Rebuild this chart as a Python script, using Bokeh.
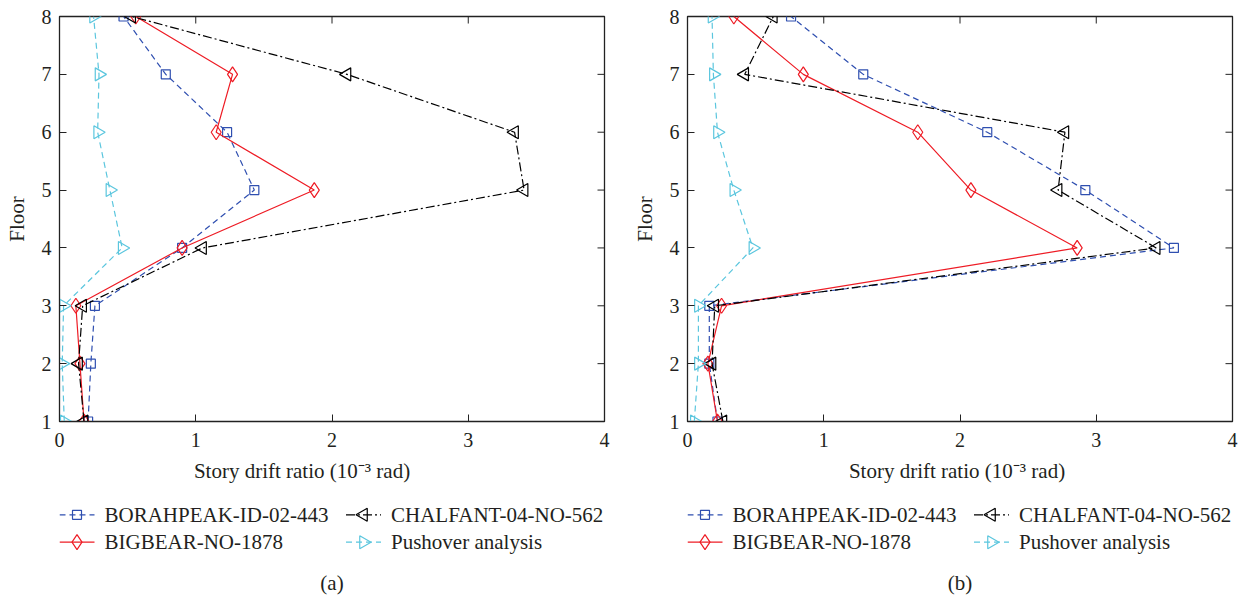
import math
from bokeh.plotting import figure
from bokeh.models import Range1d, FixedTicker, Label
from bokeh.core.properties import value
from bokeh.layouts import row, column
from bokeh.embed import file_html
from bokeh.resources import INLINE

# Floor numbers (storey 1 to 8)
floors = [1, 2, 3, 4, 5, 6, 7, 8]

# Story drift ratios (10^-3 rad), floor 1 -> floor 8
# Panel (a)
a_borah = [0.21, 0.23, 0.26, 0.90, 1.43, 1.23, 0.78, 0.47]
a_bigbear = [0.18, 0.15, 0.12, 0.90, 1.87, 1.15, 1.27, 0.56]
a_chalfant = [0.18, 0.14, 0.17, 1.05, 3.41, 3.34, 2.11, 0.53]
a_pushover = [0.035, 0.02, 0.03, 0.46, 0.37, 0.28, 0.29, 0.25]

# Panel (b)
b_borah = [0.22, 0.16, 0.16, 3.57, 2.92, 2.20, 1.29, 0.76]
b_bigbear = [0.22, 0.15, 0.25, 2.86, 2.08, 1.69, 0.85, 0.34]
b_chalfant = [0.26, 0.18, 0.20, 3.44, 2.72, 2.77, 0.42, 0.63]
b_pushover = [0.05, 0.08, 0.08, 0.48, 0.34, 0.22, 0.19, 0.18]

series_names = ["BORAHPEAK-ID-02-443", "BIGBEAR-NO-1878",
                "CHALFANT-04-NO-562", "Pushover analysis"]
x_ticks = [0, 1, 2, 3, 4]
y_ticks = floors
x_title = "Story drift ratio (10\u207b\u00b3 rad)"
y_title = "Floor"

FONT = "Liberation Serif"
TXT = "#231f20"
FS = "20px"
PANEL_W = 622
CHART_H = 458
KEY_H = 600 - CHART_H
FRAME_W, FRAME_H = 545, 405

STYLES = {
    "BORAHPEAK-ID-02-443": dict(color="#2f4fb0", dash="6 4", marker="square", size=9, angle=0.0),
    "BIGBEAR-NO-1878": dict(color="#ee1c25", dash="solid", marker="diamond", size=15, angle=0.0),
    "CHALFANT-04-NO-562": dict(color="#000000", dash="9 3 2 3", marker="triangle", size=13, angle=math.pi / 2),
    "Pushover analysis": dict(color="#5bc6de", dash="6 4", marker="triangle", size=13, angle=-math.pi / 2),
}

# key layout (pixels inside the strip under each chart, origin bottom-left of the box)
KEY_COLS = [0, 286.5]          # left end of each legend column
KEY_ROWS = [85.7, 58.3]        # centre line of each legend row
GLYPH_W, LABEL_GAP = 35, 10


def style_axis(ax):
    ax.major_tick_in = 7
    ax.major_tick_out = 0
    ax.minor_tick_line_color = None
    ax.axis_line_color = "#222222"
    ax.major_tick_line_color = "#222222"
    ax.major_label_text_font = FONT
    ax.major_label_text_color = TXT
    ax.major_label_text_font_size = FS
    ax.axis_label_text_font = FONT
    ax.axis_label_text_font_size = "21px"
    ax.axis_label_text_font_style = "normal"
    ax.axis_label_text_color = TXT


def chart(data, left_border, right_border):
    p = figure(width=PANEL_W, height=CHART_H, output_backend="svg", toolbar_location=None,
               x_range=Range1d(0, 4), y_range=Range1d(1, 8),
               min_border_left=left_border, min_border_right=right_border,
               min_border_top=16, min_border_bottom=CHART_H - 16 - FRAME_H,
               background_fill_color="white", border_fill_color="white")
    p.outline_line_color = "#222222"
    p.outline_line_width = 1.3
    p.grid.visible = False

    xa = p.xaxis[0]
    ya = p.yaxis[0]
    xa.ticker = FixedTicker(ticks=x_ticks)
    ya.ticker = FixedTicker(ticks=y_ticks)
    for ax in (xa, ya):
        style_axis(ax)
    ya.axis_label = y_title
    xa.major_label_standoff = 11
    ya.major_label_standoff = 8
    ya.axis_label_standoff = 10

    # inward tick marks along the top and right edges of the box
    tick_dx = 7 / FRAME_W * 4
    tick_dy = 7 / FRAME_H * 7
    p.segment(x0=x_ticks, y0=[8] * len(x_ticks), x1=x_ticks, y1=[8 - tick_dy] * len(x_ticks),
              line_color="#222222", line_width=1)
    p.segment(x0=[4] * len(y_ticks), y0=y_ticks, x1=[4 - tick_dx] * len(y_ticks), y1=y_ticks,
              line_color="#222222", line_width=1)

    for name, xs in zip(series_names, data):
        st = STYLES[name]
        p.line(xs, floors, line_color=st["color"], line_width=1.2, line_dash=st["dash"])
        p.scatter(xs, floors, marker=st["marker"], size=st["size"], angle=st["angle"],
                  line_color=st["color"], line_width=1.2, fill_color=None)
    return p


def key(caption, title_x, left_border, right_border):
    # strip under each chart: x-axis title, two-column legend and panel caption
    k = figure(width=PANEL_W, height=KEY_H, output_backend="svg", toolbar_location=None,
               x_range=Range1d(0, FRAME_W), y_range=Range1d(0, KEY_H),
               x_axis_location=None, y_axis_location=None,
               min_border_left=left_border, min_border_right=right_border,
               min_border_top=0, min_border_bottom=0,
               background_fill_color="white", border_fill_color="white")
    k.outline_line_color = None
    k.grid.visible = False

    k.add_layout(Label(x=title_x, y=130, x_units="screen", y_units="screen", text=x_title,
                       text_align="center", text_baseline="middle", text_font=FONT,
                       text_font_size="21px", text_color=TXT))

    slots = [(c, r) for c in KEY_COLS for r in KEY_ROWS]
    for name, (cx, ry) in zip(series_names, slots):
        st = STYLES[name]
        k.line([cx, cx + GLYPH_W], [ry, ry], line_color=st["color"], line_width=1.2,
               line_dash=st["dash"])
        k.scatter([cx + GLYPH_W / 2], [ry], marker=st["marker"], size=st["size"],
                  angle=st["angle"], line_color=st["color"], line_width=1.2, fill_color=None)
        k.text([cx + GLYPH_W + LABEL_GAP], [ry], text=[name], text_font=value(FONT),
               text_font_size=value("21px"), text_color=TXT, text_baseline="middle",
               text_align="left")

    k.add_layout(Label(x=FRAME_W / 2, y=18, x_units="screen", y_units="screen",
                       text=caption, text_align="center", text_baseline="middle",
                       text_font=FONT, text_font_size="21px", text_color=TXT))
    return k


pa = column(chart([a_borah, a_bigbear, a_chalfant, a_pushover], 59, 18),
            key("(a)", 242.5, 59, 18))
pb = column(chart([b_borah, b_bigbear, b_chalfant, b_pushover], 65, 12),
            key("(b)", 269.5, 65, 12))

layout = row(pa, pb)
open("out.html", "w").write(file_html(layout, INLINE))
